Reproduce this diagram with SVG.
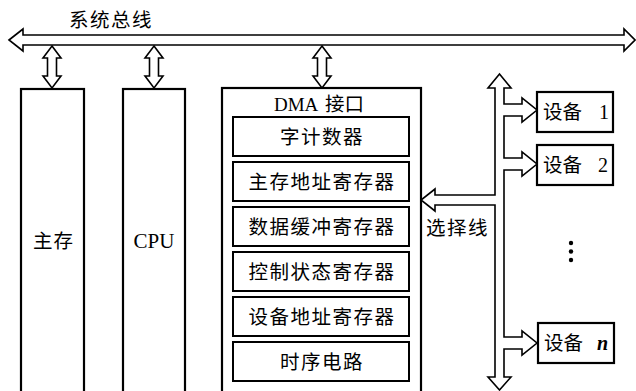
<svg xmlns="http://www.w3.org/2000/svg" width="636" height="391" viewBox="0 0 636 391">
<style>
  .box { fill: #fff; stroke: #000; stroke-width: 2.2; }
  .inner { fill: #fff; stroke: #000; stroke-width: 2; }
  .arr { fill: #fff; stroke: #000; stroke-width: 1.6; stroke-linejoin: miter; }
  .cjk { font-family: "Noto Sans CJK SC", "Liberation Serif", sans-serif; font-size: 19.5px; fill: #000; letter-spacing: 1.5px; }
  .lat { font-family: "Liberation Serif", serif; fill: #000; }
</style>
<rect width="636" height="391" fill="#fff"/>

<g id="bus-label">
  <text class="cjk" x="69" y="27" style="letter-spacing:1.5px">系统总线</text>
</g>

<g id="connectors">
  <path id="system-bus" class="arr" d="M9,40 L23,29 L23,35 L624,35 L624,29 L635,40 L624,51 L624,45 L23,45 L23,51 Z"/>
  <path id="bus-mem" class="arr" d="M52,46 L61,58 L56.5,58 L56.5,76 L61,76 L52,88 L43,76 L47.5,76 L47.5,58 L43,58 Z"/>
  <path id="bus-cpu" class="arr" d="M154,46 L163,58 L158.5,58 L158.5,76 L163,76 L154,88 L145,76 L149.5,76 L149.5,58 L145,58 Z"/>
  <path id="bus-dma" class="arr" d="M322,46 L331,58 L326.5,58 L326.5,76 L331,76 L322,88 L313,76 L317.5,76 L317.5,58 L313,58 Z"/>
  <path id="device-bus" class="arr" d="M499.5,74 L511,88 L504,88 L504,104 L522,104 L522,98 L537,110 L522,122 L522,116 L504,116 L504,158 L522,158 L522,152 L537,164 L522,176 L522,170 L504,170 L504,337 L522,337 L522,331 L537,343 L522,355 L522,349 L504,349 L504,377 L511,377 L499.5,390 L488,377 L495,377 L495,205 L435,205 L435,211 L421,200 L435,189 L435,195 L495,195 L495,88 L488,88 Z"/>
</g>

<g id="main-memory">
  <rect class="box" x="21" y="89" width="63" height="310"/>
  <text class="cjk" x="33" y="248" style="letter-spacing:1px">主存</text>
</g>

<g id="cpu">
  <rect class="box" x="123" y="89" width="62" height="310"/>
  <text class="lat" x="154" y="248" font-size="21" text-anchor="middle">CPU</text>
</g>

<g id="dma">
  <rect class="box" x="222" y="88" width="199" height="311"/>
  <text x="274" y="111"><tspan class="lat" font-size="19">DMA</tspan><tspan class="cjk" x="325" style="letter-spacing:0">接口</tspan></text>
</g>

<g id="word-counter">
  <rect class="inner" x="233" y="117" width="176" height="39"/>
  <text class="cjk" x="322" y="143.5" text-anchor="middle">字计数器</text>
</g>
<g id="mem-addr-reg">
  <rect class="inner" x="233" y="162" width="176" height="39"/>
  <text class="cjk" x="322" y="188.5" text-anchor="middle">主存地址寄存器</text>
</g>
<g id="data-buffer-reg">
  <rect class="inner" x="233" y="207" width="176" height="39"/>
  <text class="cjk" x="322" y="233.5" text-anchor="middle">数据缓冲寄存器</text>
</g>
<g id="ctrl-status-reg">
  <rect class="inner" x="233" y="252" width="176" height="39"/>
  <text class="cjk" x="322" y="278.5" text-anchor="middle">控制状态寄存器</text>
</g>
<g id="dev-addr-reg">
  <rect class="inner" x="233" y="297" width="176" height="39"/>
  <text class="cjk" x="322" y="323.5" text-anchor="middle">设备地址寄存器</text>
</g>
<g id="timing">
  <rect class="inner" x="233" y="342" width="176" height="39"/>
  <text class="cjk" x="322" y="368.5" text-anchor="middle">时序电路</text>
</g>

<g id="select-label">
  <text class="cjk" x="426" y="235">选择线</text>
</g>

<g id="device-1">
  <rect class="box" x="537" y="92" width="76" height="40"/>
  <text x="543" y="119"><tspan class="cjk" style="letter-spacing:0">设备</tspan><tspan class="lat" x="599" font-size="20">1</tspan></text>
</g>
<g id="device-2">
  <rect class="box" x="537" y="145" width="76" height="40"/>
  <text x="543" y="172"><tspan class="cjk" style="letter-spacing:0">设备</tspan><tspan class="lat" x="598" font-size="20">2</tspan></text>
</g>
<g id="ellipsis">
  <circle cx="571" cy="243" r="2.2"/>
  <circle cx="571" cy="251.5" r="2.2"/>
  <circle cx="571" cy="260" r="2.2"/>
</g>
<g id="device-n">
  <rect class="box" x="538" y="323" width="76" height="40"/>
  <text x="544" y="350"><tspan class="cjk" style="letter-spacing:0">设备</tspan><tspan class="lat" x="597" font-size="20" font-style="italic" font-weight="bold">n</tspan></text>
</g>
</svg>
